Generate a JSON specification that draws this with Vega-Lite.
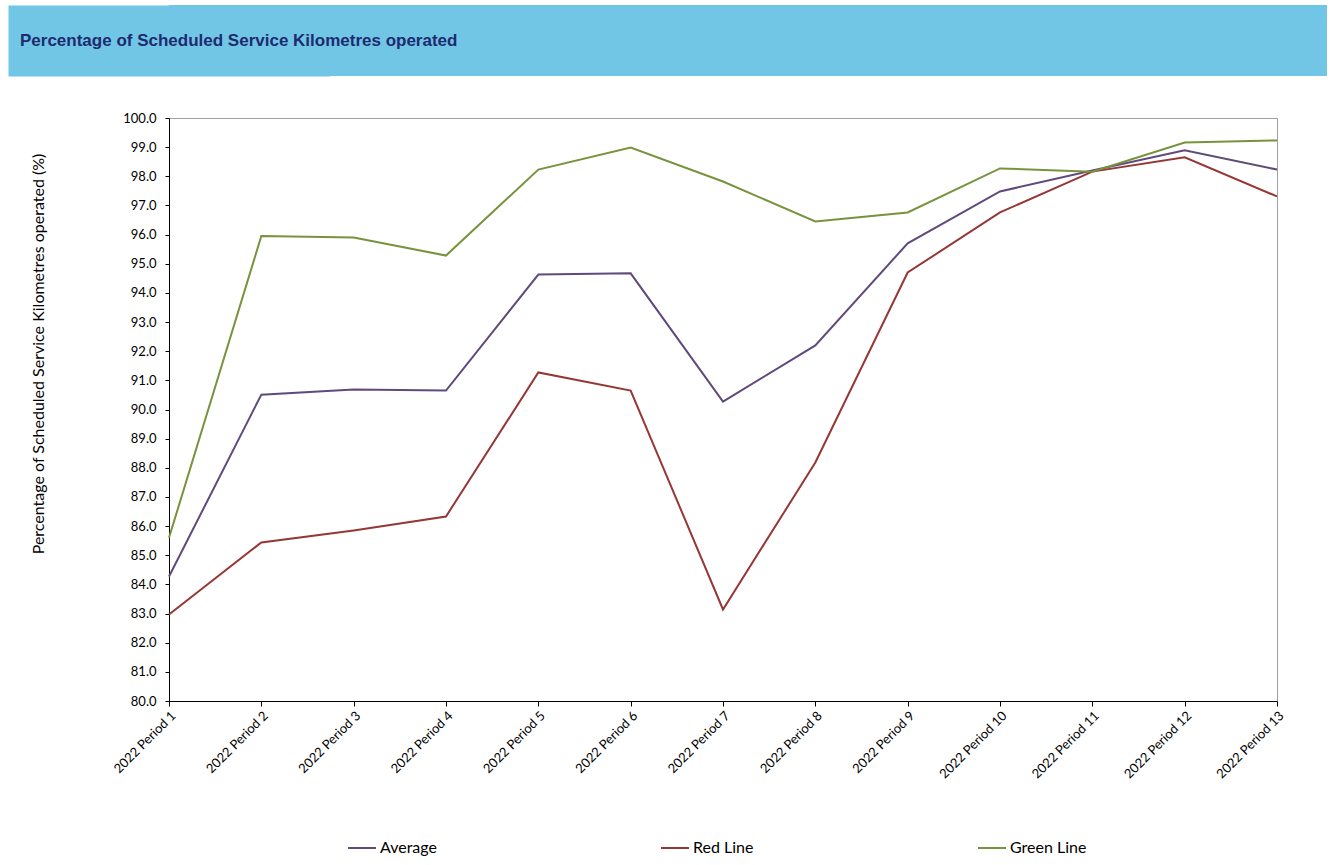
{
  "$schema": "https://vega.github.io/schema/vega-lite/v6.json",
  "padding": {"left": 8, "top": 5, "right": 5, "bottom": 0},
  "background": "white",
  "spacing": 35,
  "config": {"font": "Lato", "view": {"stroke": null}},
  "vconcat": [
    {
      "width": 1158,
      "height": 71,
      "view": {"fill": "#71C6E6", "stroke": null},
      "title": {"text": "Percentage of Scheduled Service Kilometres operated", "anchor": "start", "orient": "top", "frame": "group", "offset": -35, "baseline": "middle", "dx": -149, "dy": 18, "font": "Liberation Sans", "fontSize": 17, "fontWeight": "bold", "color": "#1E2B6E"},
      "data": {"values": [{"a": 1}]},
      "mark": {"type": "point", "opacity": 0, "size": 1},
      "encoding": {
        "y": {"field": "a", "type": "quantitative", "scale": {"domain": [0, 2]}, "axis": {"title": null, "labels": false, "ticks": false, "grid": false, "domainColor": "#71C6E6", "domainWidth": 322, "domainCap": "butt"}}
      }
    },
    {
      "width": 1108,
      "height": 583,
      "view": {"stroke": "#A0A0A0"},
      "data": {"values": [
        {"period": "2022 Period 1", "series": "Average", "value": 84.27},
        {"period": "2022 Period 2", "series": "Average", "value": 90.51},
        {"period": "2022 Period 3", "series": "Average", "value": 90.69},
        {"period": "2022 Period 4", "series": "Average", "value": 90.65},
        {"period": "2022 Period 5", "series": "Average", "value": 94.63},
        {"period": "2022 Period 6", "series": "Average", "value": 94.67},
        {"period": "2022 Period 7", "series": "Average", "value": 90.27},
        {"period": "2022 Period 8", "series": "Average", "value": 92.2},
        {"period": "2022 Period 9", "series": "Average", "value": 95.7},
        {"period": "2022 Period 10", "series": "Average", "value": 97.48},
        {"period": "2022 Period 11", "series": "Average", "value": 98.2},
        {"period": "2022 Period 12", "series": "Average", "value": 98.89},
        {"period": "2022 Period 13", "series": "Average", "value": 98.23},
        {"period": "2022 Period 1", "series": "Red Line", "value": 82.97},
        {"period": "2022 Period 2", "series": "Red Line", "value": 85.44},
        {"period": "2022 Period 3", "series": "Red Line", "value": 85.85},
        {"period": "2022 Period 4", "series": "Red Line", "value": 86.33},
        {"period": "2022 Period 5", "series": "Red Line", "value": 91.27},
        {"period": "2022 Period 6", "series": "Red Line", "value": 90.65},
        {"period": "2022 Period 7", "series": "Red Line", "value": 83.14},
        {"period": "2022 Period 8", "series": "Red Line", "value": 88.18},
        {"period": "2022 Period 9", "series": "Red Line", "value": 94.7},
        {"period": "2022 Period 10", "series": "Red Line", "value": 96.76},
        {"period": "2022 Period 11", "series": "Red Line", "value": 98.16},
        {"period": "2022 Period 12", "series": "Red Line", "value": 98.65},
        {"period": "2022 Period 13", "series": "Red Line", "value": 97.31},
        {"period": "2022 Period 1", "series": "Green Line", "value": 85.6},
        {"period": "2022 Period 2", "series": "Green Line", "value": 95.95},
        {"period": "2022 Period 3", "series": "Green Line", "value": 95.9},
        {"period": "2022 Period 4", "series": "Green Line", "value": 95.28},
        {"period": "2022 Period 5", "series": "Green Line", "value": 98.23},
        {"period": "2022 Period 6", "series": "Green Line", "value": 98.99},
        {"period": "2022 Period 7", "series": "Green Line", "value": 97.82},
        {"period": "2022 Period 8", "series": "Green Line", "value": 96.45},
        {"period": "2022 Period 9", "series": "Green Line", "value": 96.76},
        {"period": "2022 Period 10", "series": "Green Line", "value": 98.27},
        {"period": "2022 Period 11", "series": "Green Line", "value": 98.16},
        {"period": "2022 Period 12", "series": "Green Line", "value": 99.16},
        {"period": "2022 Period 13", "series": "Green Line", "value": 99.23}
      ]},
      "mark": {"type": "line", "strokeWidth": 2},
      "encoding": {
        "x": {
          "field": "period", "type": "ordinal", "sort": null,
          "scale": {"type": "point", "padding": 0},
          "axis": {"title": null, "labelAngle": -45, "labelFontSize": 13, "labelColor": "#000000", "domainColor": "#000000", "tickColor": "#000000", "tickSize": 5, "labelPadding": 3, "grid": false}
        },
        "y": {
          "field": "value", "type": "quantitative",
          "scale": {"domain": [80, 100], "nice": false, "zero": false},
          "axis": {
            "title": [" ", "Percentage of Scheduled Service Kilometres operated (%)"],
            "titleX": -144, "titleY": 235.5, "titleFontSize": 16, "titleFontWeight": "normal", "titleColor": "#000000", "titleLineHeight": 21,
            "values": [80, 81, 82, 83, 84, 85, 86, 87, 88, 89, 90, 91, 92, 93, 94, 95, 96, 97, 98, 99, 100],
            "format": ".1f", "labelFontSize": 13, "labelColor": "#000000", "grid": false,
            "domainColor": "#000000", "tickColor": "#000000", "tickSize": 4, "labelPadding": 9
          }
        },
        "color": {
          "field": "series", "type": "nominal",
          "scale": {"domain": ["Average", "Red Line", "Green Line"], "range": ["#604A7B", "#953735", "#77933C"]},
          "legend": {"orient": "none", "legendX": 178, "legendY": 828, "direction": "horizontal", "columns": 3, "columnPadding": 220, "title": null, "symbolType": "stroke", "symbolSize": 784, "symbolStrokeWidth": 2, "labelFontSize": 16, "labelOffset": 3, "labelColor": "#000000", "padding": 0}
        }
      }
    }
  ]
}
